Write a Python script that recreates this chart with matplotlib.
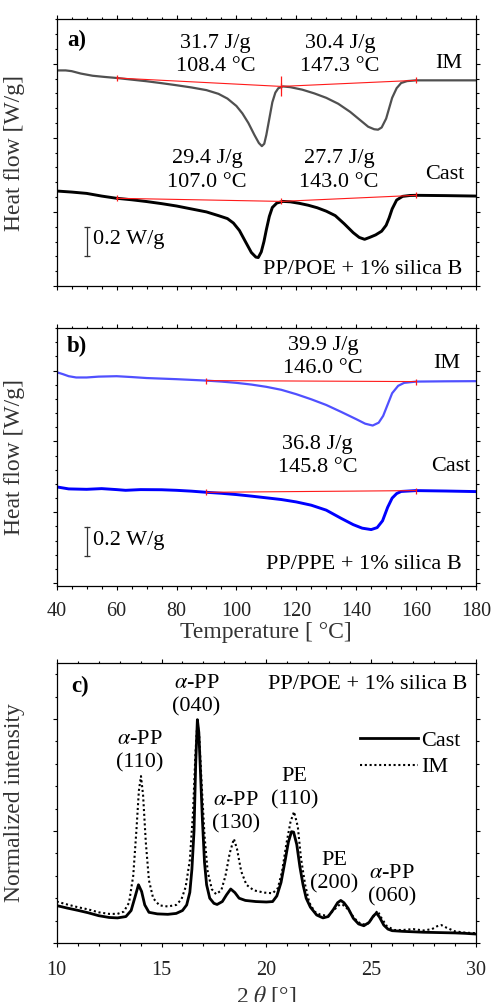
import matplotlib
matplotlib.use("Agg")
import matplotlib.pyplot as plt
from matplotlib.ticker import MultipleLocator, NullFormatter

plt.rcParams['font.family'] = ['Liberation Serif', 'DejaVu Serif']
plt.rcParams['mathtext.fontset'] = 'stix'

# ---------------- Panel a data (PP/POE + 1% silica B) ----------------
a_im_T = [40, 43, 45, 48, 52, 56, 60, 65, 70, 75, 80, 85, 90, 94, 97, 100, 102, 104, 106, 107.5,
          108.5, 109.3, 110, 111, 112, 113, 114, 115.5, 118, 122, 126, 130, 134, 138, 141, 144,
          146, 147.3, 148.5, 150, 151, 152, 153.5, 155, 157, 160, 170, 180]
a_im_hf = [-0.045, -0.045, -0.050, -0.066, -0.081, -0.089, -0.096, -0.107, -0.118, -0.131, -0.145,
           -0.160, -0.178, -0.203, -0.235, -0.285, -0.335, -0.400, -0.480, -0.535, -0.556, -0.540,
           -0.480, -0.370, -0.260, -0.195, -0.165, -0.153, -0.158, -0.175, -0.200, -0.230, -0.270,
           -0.325, -0.375, -0.425, -0.442, -0.445, -0.430, -0.370, -0.300, -0.230, -0.165, -0.130,
           -0.117, -0.112, -0.112, -0.112]
a_cast_T = [40, 45, 50, 55, 60, 65, 70, 75, 80, 85, 90, 94, 97, 99, 101, 103, 105, 106.5, 107.3,
            108.3, 109.2, 110, 111, 112, 113.5, 115.5, 118, 121, 124, 127, 130, 133, 136, 139, 141,
            142.8, 144.5, 146.5, 148.5, 150, 151, 152, 153.5, 155.5, 158, 160, 170, 180]
a_cast_hf = [-0.859, -0.866, -0.875, -0.893, -0.908, -0.918, -0.930, -0.944, -0.960, -0.980, -1.000,
             -1.025, -1.045, -1.075, -1.125, -1.200, -1.274, -1.305, -1.308, -1.270, -1.200, -1.120,
             -1.030, -0.970, -0.940, -0.929, -0.932, -0.942, -0.955, -0.972, -0.995, -1.025, -1.080,
             -1.140, -1.172, -1.185, -1.172, -1.155, -1.130, -1.090, -1.040, -0.980, -0.920, -0.895,
             -0.889, -0.888, -0.890, -0.893]
a_im_base_T = [60, 115, 160]
a_im_base_hf = [-0.096, -0.153, -0.112]
a_cast_base_T = [60, 115, 160]
a_cast_base_hf = [-0.908, -0.929, -0.888]
a_im_labels = ["31.7 J/g\n108.4 °C", "30.4 J/g\n147.3 °C"]
a_cast_labels = ["29.4 J/g\n107.0 °C", "27.7 J/g\n143.0 °C"]

# ---------------- Panel b data (PP/PPE + 1% silica B) ----------------
b_im_T = [40, 42, 44, 46.5, 50, 54, 60, 65, 70, 75, 80, 85, 90, 95, 100, 105, 110, 115, 120, 125,
          130, 135, 140, 143, 145.5, 147.5, 149, 150.5, 152, 154, 156, 160, 170, 180]
b_im_hf = [-0.012, -0.025, -0.040, -0.049, -0.049, -0.043, -0.040, -0.046, -0.053, -0.057, -0.061,
           -0.066, -0.071, -0.078, -0.087, -0.099, -0.115, -0.136, -0.167, -0.203, -0.243, -0.292,
           -0.343, -0.375, -0.388, -0.368, -0.320, -0.240, -0.160, -0.108, -0.087, -0.078, -0.076,
           -0.075]
b_cast_T = [40, 44, 50, 55, 60, 63, 68, 75, 80, 85, 90, 95, 100, 105, 110, 115, 120, 125, 130, 135,
            139, 142, 145, 147, 148.8, 150.5, 152, 153.5, 155, 160, 170, 180]
b_cast_hf = [-0.821, -0.835, -0.838, -0.833, -0.840, -0.845, -0.840, -0.841, -0.845, -0.851, -0.859,
             -0.866, -0.875, -0.886, -0.898, -0.910, -0.927, -0.950, -0.985, -1.043, -1.087, -1.112,
             -1.122, -1.108, -1.060, -0.965, -0.900, -0.868, -0.853, -0.847, -0.850, -0.854]
b_im_base_T = [90, 160]
b_im_base_hf = [-0.071, -0.078]
b_cast_base_T = [90, 160]
b_cast_base_hf = [-0.859, -0.847]
b_im_label = "39.9 J/g\n146.0 °C"
b_cast_label = "36.8 J/g\n145.8 °C"

# ---------------- Panel c data (XRD) ----------------
c_cast_2theta = [10.0, 10.5, 11.0, 11.5, 12.0, 12.5, 12.9, 13.3, 13.55, 13.75, 13.9, 14.05, 14.2, 14.4,
                 14.8, 15.3, 15.7, 16.0, 16.2, 16.35, 16.45, 16.55, 16.63, 16.71, 16.78, 16.85, 16.95,
                 17.05, 17.15, 17.3, 17.5, 17.65, 17.9, 18.1, 18.3, 18.5, 18.7, 19.0, 19.5, 20.0, 20.3,
                 20.5, 20.7, 20.9, 21.05, 21.2, 21.3, 21.45, 21.6, 21.75, 21.9, 22.1, 22.4, 22.7, 22.95,
                 23.2, 23.4, 23.55, 23.7, 23.9, 24.15, 24.4, 24.65, 24.9, 25.1, 25.25, 25.4, 25.6, 25.8,
                 26.0, 26.5, 27.0, 27.5, 28.0, 28.5, 29.0, 29.5, 30.0]
c_cast_int = [0.167, 0.156, 0.146, 0.135, 0.122, 0.114, 0.112, 0.118, 0.145, 0.210, 0.260, 0.230, 0.170,
              0.137, 0.130, 0.128, 0.132, 0.145, 0.170, 0.226, 0.330, 0.500, 0.800, 0.997, 0.940, 0.780,
              0.550, 0.360, 0.260, 0.200, 0.177, 0.172, 0.185, 0.215, 0.241, 0.225, 0.200, 0.190, 0.185,
              0.183, 0.185, 0.210, 0.270, 0.370, 0.450, 0.497, 0.495, 0.440, 0.340, 0.260, 0.200, 0.160,
              0.125, 0.112, 0.118, 0.150, 0.180, 0.190, 0.180, 0.155, 0.110, 0.085, 0.077, 0.092, 0.120,
              0.134, 0.115, 0.080, 0.062, 0.055, 0.052, 0.050, 0.048, 0.047, 0.046, 0.045, 0.043, 0.040]
c_im_2theta = [10.0, 10.5, 11.0, 11.5, 12.0, 12.5, 12.9, 13.2, 13.45, 13.65, 13.8, 13.92, 14.02, 14.12,
               14.25, 14.4, 14.6, 14.9, 15.3, 15.7, 15.95, 16.15, 16.35, 16.5, 16.62, 16.71, 16.8, 16.92,
               17.05, 17.2, 17.4, 17.6, 17.85, 18.05, 18.25, 18.45, 18.6, 18.8, 19.05, 19.4, 19.9, 20.3,
               20.55, 20.75, 20.95, 21.15, 21.32, 21.5, 21.65, 21.85, 22.05, 22.3, 22.6, 22.95, 23.25,
               23.5, 23.65, 23.9, 24.2, 24.5, 24.8, 25.05, 25.3, 25.5, 25.75, 26.1, 26.5, 27.0, 27.5,
               27.9, 28.15, 28.35, 28.6, 29.0, 29.5, 30.0]
c_im_int = [0.185, 0.172, 0.160, 0.150, 0.137, 0.130, 0.130, 0.140, 0.180, 0.300, 0.500, 0.680, 0.745,
            0.660, 0.450, 0.280, 0.200, 0.168, 0.163, 0.170, 0.195, 0.250, 0.370, 0.580, 0.850, 0.985,
            0.920, 0.700, 0.480, 0.320, 0.240, 0.218, 0.235, 0.300, 0.400, 0.465, 0.420, 0.320, 0.260,
            0.235, 0.225, 0.222, 0.245, 0.320, 0.440, 0.540, 0.586, 0.520, 0.380, 0.260, 0.180, 0.140,
            0.125, 0.122, 0.150, 0.172, 0.170, 0.150, 0.110, 0.085, 0.082, 0.110, 0.144, 0.110, 0.075,
            0.058, 0.058, 0.062, 0.056, 0.062, 0.075, 0.080, 0.068, 0.052, 0.046, 0.044]
c_peak_labels = [r"$\alpha$-PP" + "\n(110)", r"$\alpha$-PP" + "\n(040)", r"$\alpha$-PP" + "\n(130)",
                 "PE\n(110)", "PE\n(200)", r"$\alpha$-PP" + "\n(060)"]
c_peak_label_x = [13.94, 16.67, 18.54, 21.35, 23.25, 26.0]
c_peak_label_y = [0.857, 1.106, 0.582, 0.689, 0.315, 0.257]

# ---------------- Figure ----------------
fig = plt.figure(figsize=(4.93, 10.02), dpi=100)
L, R = 56.7 / 493, 476 / 493
W = R - L
def axrect(top_px, bot_px):
    return [L, 1 - bot_px / 1002, W, (bot_px - top_px) / 1002]

ax_a = fig.add_axes(axrect(19.3, 286))
ax_b = fig.add_axes(axrect(328, 586))
ax_c = fig.add_axes(axrect(663, 943))

FS_TICK = 14.5
FS_VAL = 16
FS_LAB = 16
FS_AXL = 17
LS_VAL = 1.3
LABEL_COLOR = '#333333'

def style(ax, pad=8):
    ax.tick_params(which='both', direction='out', top=True, right=True, width=0.8,
                   labelsize=FS_TICK, labelcolor='#222222', pad=pad)
    ax.tick_params(which='major', length=3.2)
    ax.tick_params(which='minor', length=1.8)
    for s in ax.spines.values():
        s.set_linewidth(0.9)

RED = '#ff1a1a'

# ---- panel a ----
ax = ax_a
ax.plot(a_im_T, a_im_hf, color='#505050', lw=1.6)
ax.plot(a_cast_T, a_cast_hf, color='black', lw=2.1)
ax.plot(a_im_base_T, a_im_base_hf, color=RED, lw=0.8, marker='|', ms=5, mew=0.9)
ax.plot([a_im_base_T[1]], [a_im_base_hf[1]], color=RED, marker='|', ms=15, mew=0.9)
ax.plot(a_cast_base_T, a_cast_base_hf, color=RED, lw=0.8, marker='|', ms=5, mew=0.9)
ax.set_xlim(40, 180)
ax.set_ylim(-1.5, 0.3)
ax.xaxis.set_major_locator(MultipleLocator(20))
ax.xaxis.set_minor_locator(MultipleLocator(5))
ax.yaxis.set_major_locator(MultipleLocator(0.5))
ax.yaxis.set_minor_locator(MultipleLocator(0.1))
ax.xaxis.set_major_formatter(NullFormatter())
ax.yaxis.set_major_formatter(NullFormatter())
style(ax)
ax.text(43.4, 0.16, "a)", fontsize=16.5, fontweight='bold', ha='left', va='center')
ax.text(93.0, 0.06, a_im_labels[0], fontsize=FS_VAL, ha='center', va='center', linespacing=LS_VAL)
ax.text(134.6, 0.06, a_im_labels[1], fontsize=FS_VAL, ha='center', va='center', linespacing=LS_VAL)
ax.text(175.3, 0.0, "IM", fontsize=FS_LAB, ha='right', va='center')
ax.text(90.2, -0.72, a_cast_labels[0], fontsize=FS_VAL, ha='center', va='center', linespacing=LS_VAL)
ax.text(134.2, -0.72, a_cast_labels[1], fontsize=FS_VAL, ha='center', va='center', linespacing=LS_VAL)
ax.text(176.1, -0.747, "Cast", fontsize=FS_LAB, ha='right', va='center')
ax.plot([50, 50], [-1.101, -1.297], color='#333333', lw=0.9, marker='_', ms=4, mew=0.9)
ax.text(52.0, -1.184, "0.2 W/g", fontsize=FS_LAB, ha='left', va='center')
ax.text(175.6, -1.386, "PP/POE + 1% silica B", fontsize=FS_LAB, ha='right', va='center')
ax.set_ylabel("Heat flow [W/g]", fontsize=FS_AXL, color=LABEL_COLOR)
ax.yaxis.set_label_coords(-0.076, 0.5)

# ---- panel b ----
ax = ax_b
ax.plot(b_im_T, b_im_hf, color='#5050ff', lw=1.6)
ax.plot(b_cast_T, b_cast_hf, color='#0000ff', lw=2.1)
ax.plot(b_im_base_T, b_im_base_hf, color=RED, lw=0.8, marker='|', ms=5, mew=0.9)
ax.plot(b_cast_base_T, b_cast_base_hf, color=RED, lw=0.8, marker='|', ms=5, mew=0.9)
ax.set_xlim(40, 180)
ax.set_ylim(-1.52, 0.30)
ax.xaxis.set_major_locator(MultipleLocator(20))
ax.xaxis.set_minor_locator(MultipleLocator(5))
ax.yaxis.set_major_locator(MultipleLocator(0.5))
ax.yaxis.set_minor_locator(MultipleLocator(0.1))
ax.yaxis.set_major_formatter(NullFormatter())
style(ax, pad=8.5)
ax.text(43.4, 0.167, "b)", fontsize=16.5, fontweight='bold', ha='left', va='center')
ax.text(129.0, 0.094, b_im_label, fontsize=FS_VAL, ha='center', va='center', linespacing=LS_VAL)
ax.text(174.8, 0.049, "IM", fontsize=FS_LAB, ha='right', va='center')
ax.text(127.1, -0.602, b_cast_label, fontsize=FS_VAL, ha='center', va='center', linespacing=LS_VAL)
ax.text(178.0, -0.675, "Cast", fontsize=FS_LAB, ha='right', va='center')
ax.plot([50, 50], [-1.106, -1.311], color='#333333', lw=0.9, marker='_', ms=4, mew=0.9)
ax.text(52.0, -1.198, "0.2 W/g", fontsize=FS_LAB, ha='left', va='center')
ax.text(175.3, -1.365, "PP/PPE + 1% silica B", fontsize=FS_LAB, ha='right', va='center')
ax.set_ylabel("Heat flow [W/g]", fontsize=FS_AXL, color=LABEL_COLOR)
ax.yaxis.set_label_coords(-0.076, 0.5)
ax.set_xlabel("Temperature [ °C]", fontsize=FS_AXL, color=LABEL_COLOR)
ax.xaxis.set_label_coords(0.5, -0.14)

# ---- panel c ----
ax = ax_c
ax.plot(c_cast_2theta, c_cast_int, color='black', lw=2.0, label='Cast')
ax.plot(c_im_2theta, c_im_int, color='black', lw=1.5, ls=(0, (1, 1.3)), label='IM')
ax.set_xlim(10, 30)
ax.set_ylim(0, 1.25)
ax.xaxis.set_major_locator(MultipleLocator(5))
ax.xaxis.set_minor_locator(MultipleLocator(1))
ax.yaxis.set_major_locator(MultipleLocator(0.5))
ax.yaxis.set_minor_locator(MultipleLocator(0.1))
ax.yaxis.set_major_formatter(NullFormatter())
style(ax, pad=10)
ax.text(10.71, 1.146, "c)", fontsize=16.5, fontweight='bold', ha='left', va='center')
ax.text(29.6, 1.156, "PP/POE + 1% silica B", fontsize=FS_LAB, ha='right', va='center')
for lab, x, y in zip(c_peak_labels, c_peak_label_x, c_peak_label_y):
    ax.text(x, y, lab, fontsize=FS_LAB, ha='center', va='center', linespacing=1.3)
leg = ax.legend(loc='upper right', bbox_to_anchor=(0.985, 0.79), frameon=False, fontsize=FS_LAB,
                handlelength=2.6, handletextpad=0.15, labelspacing=0.25, borderaxespad=0)
ax.set_ylabel("Normalized intensity", fontsize=FS_AXL, color=LABEL_COLOR)
ax.yaxis.set_label_coords(-0.076, 0.5)
ax.set_xlabel(r"2 $\theta$ [°]", fontsize=FS_AXL, color=LABEL_COLOR)
ax.xaxis.set_label_coords(0.5, -0.148)

fig.savefig("out.png", dpi=100)
